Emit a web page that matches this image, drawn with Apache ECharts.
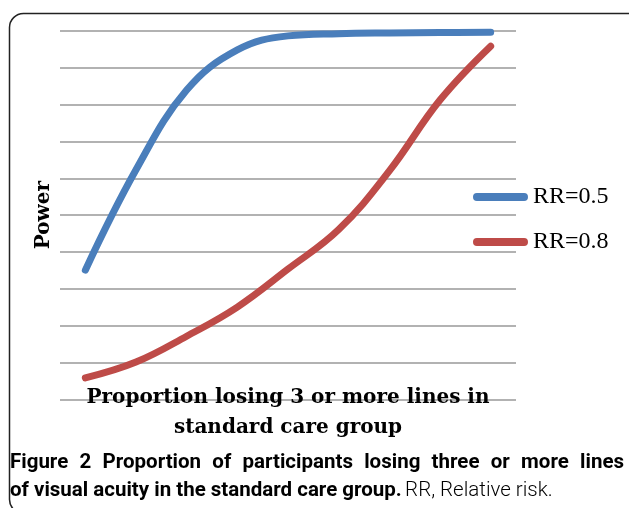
<!DOCTYPE html>
<html>
<head>
<meta charset="utf-8">
<script src="https://cdn.jsdelivr.net/npm/echarts@6/dist/echarts.min.js"></script>
<style>
html,body{margin:0;padding:0;background:#fff;}
#chart{width:629px;height:508px;}
</style>
</head>
<body>
<div id="chart"></div>
<script>
var categories = ['1', '2', '3', '4', '5', '6', '7', '8', '9'];
var rr05 = [0.351, 0.623, 0.839, 0.948, 0.986, 0.992, 0.994, 0.995, 0.996];
var rr08 = [0.059, 0.102, 0.172, 0.251, 0.354, 0.461, 0.620, 0.812, 0.958];
var seriesNames = ['RR=0.5', 'RR=0.8'];
var xTitle = 'Proportion losing 3 or more lines in\nstandard care group';
var yTitle = 'Power';
var captionBold1 = 'Figure 2 Proportion of participants losing three or more lines';
var captionBold2 = 'of visual acuity in the standard care group.';
var captionRegular = 'RR, Relative risk.';

// justify first caption line across the frame width
var capSize = 20.5;
var capWidth = 614;
var ctx = document.createElement('canvas').getContext('2d');
ctx.font = 'bold ' + capSize + 'px Roboto';
var words1 = captionBold1.split(' ');
var wsum = 0;
words1.forEach(function (w) { wsum += ctx.measureText(w).width; });
var gapW = (capWidth - wsum) / (words1.length - 1);
var line1 = words1.map(function (w) { return '{b|' + w + '}'; }).join('{g|}');

var chart = echarts.init(document.getElementById('chart'), null, {renderer: 'canvas'});
var capsule = 'path://M4,0 L52,0 A4,4 0 0 1 52,8 L4,8 A4,4 0 0 1 4,0 Z';
chart.setOption({
  animation: false,
  backgroundColor: '#fff',
  grid: {left: 60, right: 113, top: 30.7, bottom: 108.3},
  legend: {
    orient: 'vertical',
    left: 473,
    top: 185,
    padding: 0,
    itemWidth: 55,
    itemHeight: 8,
    itemGap: 21,
    data: [
      {name: seriesNames[0], icon: capsule, itemStyle: {color: '#4A7EBB'}},
      {name: seriesNames[1], icon: capsule, itemStyle: {color: '#BE4B48'}}
    ],
    textStyle: {fontFamily: 'Liberation Serif', fontSize: 24, color: '#000', lineHeight: 24}
  },
  xAxis: {
    type: 'category',
    data: categories,
    boundaryGap: true,
    axisLine: {show: false},
    axisTick: {show: false},
    axisLabel: {show: false},
    name: xTitle,
    nameLocation: 'middle',
    nameGap: -17,
    nameTextStyle: {fontFamily: 'DejaVu Serif', fontWeight: 'bold', fontSize: 20, color: '#000', lineHeight: 30}
  },
  yAxis: {
    type: 'value',
    min: 0,
    max: 1,
    interval: 0.1,
    axisLine: {show: false},
    axisTick: {show: false},
    axisLabel: {show: false},
    splitLine: {lineStyle: {color: '#999', width: 1.5}},
    name: yTitle,
    nameLocation: 'middle',
    nameGap: 6,
    nameTextStyle: {fontFamily: 'DejaVu Serif', fontWeight: 'bold', fontSize: 20, color: '#000'}
  },
  series: [
    {name: seriesNames[0], type: 'line', data: rr05, smooth: 0.4, showSymbol: false,
     lineStyle: {color: '#4A7EBB', width: 7, cap: 'round', join: 'round'}, itemStyle: {color: '#4A7EBB'}},
    {name: seriesNames[1], type: 'line', data: rr08, smooth: 0.4, showSymbol: false,
     lineStyle: {color: '#BE4B48', width: 7, cap: 'round', join: 'round'}, itemStyle: {color: '#BE4B48'}}
  ],
  graphic: [
    {type: 'rect', silent: true, z: -1,
     shape: {x: 9.5, y: 13.5, width: 640, height: 500, r: 14},
     style: {fill: 'none', stroke: '#222', lineWidth: 1.5}},
    {type: 'text', left: 10, top: 452, silent: true,
     style: {
       text: line1 + '\n{b|' + captionBold2 + '} {r|' + captionRegular + '}',
       rich: {
         b: {fontFamily: 'Roboto', fontWeight: 'bold', fontSize: capSize, color: '#231f20', lineHeight: 28},
         g: {width: gapW, fontSize: capSize, lineHeight: 28},
         r: {fontFamily: 'Roboto', fontWeight: 300, fontSize: capSize, color: '#58595b', lineHeight: 28}
       }
     }}
  ]
});
</script>
</body>
</html>
